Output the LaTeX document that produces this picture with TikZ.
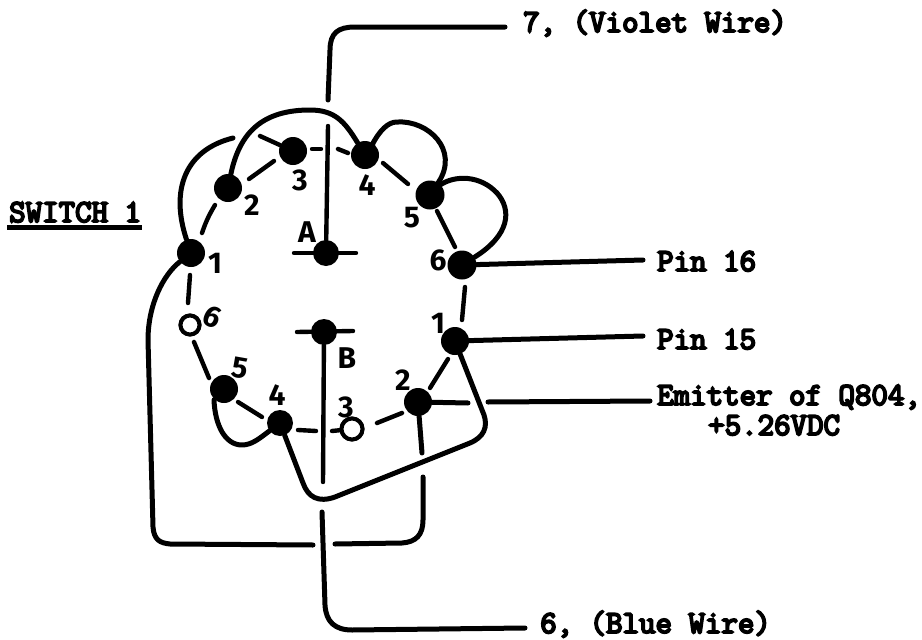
\documentclass[tikz,border=0pt]{standalone}
\usepackage{fontspec}
\setmainfont{Fira Sans}
\newfontfamily\typed{Latin Modern Mono}[FakeBold=6]
\tikzset{
  wire/.style={line width=5pt,line cap=round,line join=round,black},
  ring/.style={line width=4.4pt,line cap=round,black},
  bar/.style={line width=4.4pt,line cap=round,black},
  term/.style={circle,fill=black,draw=none,inner sep=0pt,minimum size=28pt},
  open/.style={circle,draw=black,line width=4pt,fill=white,inner sep=0pt,minimum size=19pt},
  hub/.style={circle,fill=black,draw=none,inner sep=0pt,minimum size=26pt},
  hand/.style={font=\fontsize{30}{30}\selectfont\bfseries,inner sep=0pt},
  type/.style={font=\typed\fontsize{32}{32}\selectfont,inner sep=0pt,anchor=base west},
}
\begin{document}
\begin{tikzpicture}[x=1pt,y=-1pt]
\useasboundingbox (0,0) rectangle (922,640);
% terminals, upper wafer
\node[term] (u1) at (191,253) {};
\node[term] (u2) at (228,188) {};
\node[term] (u3) at (293,151) {};
\node[term] (u4) at (365,155) {};
\node[term,minimum size=29pt] (u5) at (430,195) {};
\node[term,minimum size=29pt] (u6) at (462,265) {};
\node[hub] (A) at (326,253) {};
% terminals, lower wafer
\node[open] (l6) at (190,325) {};
\node[term] (l5) at (224,389) {};
\node[term,minimum size=26pt] (l4) at (280,423) {};
\node[open,minimum size=21pt] (l3) at (352,429) {};
\node[term] (l2) at (418,402) {};
\node[term] (l1) at (455,341) {};
\node[hub] (B) at (324,332) {};
% wafer numbers
\node[hand] at (215,263) {1};
\node[hand] at (252,205) {2};
\node[hand] at (300,180) {3};
\node[hand] at (367,185) {4};
\node[hand] at (412,218) {5};
\node[hand] at (438,260) {6};
\node[hand] at (307,232) {A};
\node[hand,rotate=-25] at (212,317) {6};
\node[hand,rotate=-10] at (240,368) {5};
\node[hand] at (277,395) {4};
\node[hand] at (346,407) {3};
\node[hand] at (403,380) {2};
\node[hand] at (438,323) {1};
\node[hand] at (347,358) {B};
% typed labels
\node[type] (sw) at (9,222) {SWITCH 1};
\draw[line width=5pt,black] (7,227) -- (142,227);
\node[type] (t7) at (523,32) {7, (Violet Wire)};
\node[type] (t6) at (540,633) {6, (Blue Wire)};
\node[type] (p16) at (657,271) {Pin 16};
\node[type] (p15) at (657,349) {Pin 15};
\node[type] (em) at (657,405) {Emitter of Q804,};
\node[type] (vdc) at (708,435) {+5.26VDC};
% ring segments, upper
\draw[ring] (202,233) to[bend left=6] (215,205);
\draw[ring] (249,179) -- (274,161);
\draw[ring] (260,136) -- (u3);
\draw[ring] (312,149) -- (321,149);
\draw[ring] (338,149) -- (348,153);
\draw[ring] (383,163) -- (408,184);
\draw[ring] (437,211) -- (455,247);
\draw[ring] (465,287) -- (462,320);
\draw[ring] (190,275) -- (188,303);
% ring segments, lower
\draw[ring] (448,359) -- (430,388);
\draw[ring] (402,413) -- (377,423);
\draw[ring] (l3) -- (332,431);
\draw[ring] (298,430) -- (316,431);
\draw[ring] (262,417) -- (238,402);
\draw[ring] (209,378) -- (194,342);
\node[open] at (l6) {};
\node[open,minimum size=21pt] at (l3) {};
% contact arms
\draw[bar] (294,253) -- (356,253);
\draw[bar] (297,332) -- (353,331);
\coordinate (a7) at (328,126);
\coordinate (b6) at (323,482);
\draw[bar] (a7) -- (A);
\draw[bar] (B) -- (b6);
% jumper loops
\coordinate (stubA) at (233,138);
\draw[wire] (u1) .. controls (170,190) and (185,150) .. (stubA);
\draw[wire] (u2) .. controls (240,130) and (265,110) .. (310,110) .. controls (335,110) and (345,122) .. (u4);
\draw[wire] (u4) -- (372,145) .. controls (380,130) and (388,122) .. (397,122) .. controls (428,120) and (460,150) .. (u5);
\draw[wire] (u5) -- (440,185) .. controls (455,175) and (480,175) .. (497,193) .. controls (512,210) and (510,235) .. (u6);
\draw[wire] (l5) -- (214,400) .. controls (215,425) and (225,445) .. (242,445) .. controls (252,445) and (260,438) .. (l4);
% lead from upper 1 around the bottom to lower 2
\coordinate (gapL) at (313,545);
\coordinate (gapR) at (335,544);
\coordinate (stub2a) at (423,477);
\draw[wire] (u1) .. controls (163,275) and (148,305) .. (148,340)
  -- (153,527) .. controls (154,540) and (160,543) .. (170,544) -- (gapL);
\draw[wire] (gapR) -- (402,543) .. controls (416,542) and (423,535) .. (423,520) -- (stub2a);
% lower 4 to lower 1
\draw[wire] (l4) -- (303,483) .. controls (308,497) and (318,503) .. (335,497)
  -- (470,443) .. controls (484,437) and (488,427) .. (484,415) -- (l1);
% lower 2 stub and lead
\coordinate (stub2b) at (422,453);
\coordinate (e1) at (468,403);
\coordinate (e2) at (488,402);
\coordinate (e3) at (650,401);
\draw[wire] (l2) -- (stub2b);
\draw[wire] (l2) -- (e1);
\draw[wire] (e2) -- (e3);
% pin leads
\coordinate (e16) at (643,260);
\coordinate (e15) at (643,336);
\draw[wire] (u6) -- (e16);
\draw[wire] (l1) -- (e15);
% violet and blue
\coordinate (v1) at (328,100);
\coordinate (v2) at (505,27);
\draw[wire] (v1) -- (330,50) .. controls (330,33) and (338,27) .. (355,27) -- (v2);
\coordinate (w1) at (322,512);
\coordinate (w2) at (525,628);
\draw[wire] (w1) -- (325,605) .. controls (326,622) and (335,630) .. (352,630) -- (w2);
\end{tikzpicture}
\end{document}
